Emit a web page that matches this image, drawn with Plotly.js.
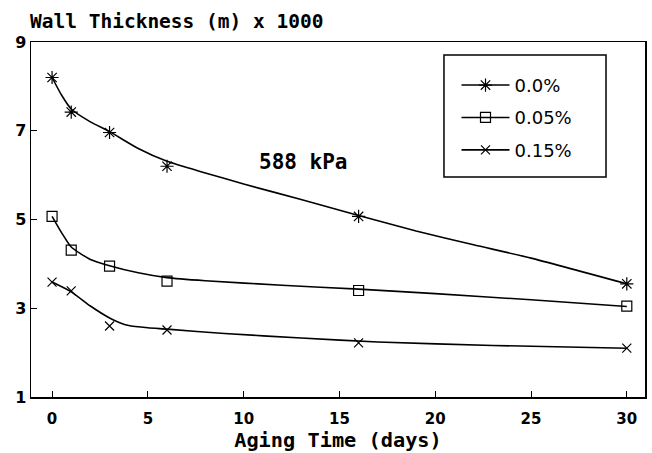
<!DOCTYPE html>
<html>
<head>
<meta charset="utf-8">
<script src="https://cdn.plot.ly/plotly-3.0.1.min.js"></script>
<style>html,body{margin:0;padding:0;background:#fff}#chart{width:652px;height:453px}</style>
</head>
<body>
<div id="chart"></div>
<script>
// Measured data points (Aging Time in days, Wall Thickness (m) x 1000)
const seriesNames = ['0.0%', '0.05%', '0.15%'];
const pointDays = [0, 1, 3, 6, 16, 30];
const points00 = [8.2, 7.42, 6.96, 6.2, 5.07, 3.55];
const points005 = [5.07, 4.31, 3.95, 3.61, 3.40, 3.05];
const points015 = [3.59, 3.39, 2.60, 2.51, 2.22, 2.10];

// Fitted curves
const curveDays00 = [0, 0.5, 1, 2, 3, 4.5, 6, 8, 10, 13, 16, 19, 22, 25, 30];
const curve00 = [8.2, 7.8, 7.49, 7.2, 6.98, 6.6, 6.31, 6.05, 5.8, 5.45, 5.09, 4.74, 4.43, 4.13, 3.55];
const curveDays005 = [0, 0.5, 1, 2, 3, 4.5, 6, 8, 12, 16, 20, 25, 30];
const curve005 = [5.07, 4.7, 4.38, 4.1, 3.96, 3.8, 3.69, 3.62, 3.52, 3.43, 3.33, 3.19, 3.04];
const curveDays015 = [0, 1, 2, 3, 3.5, 4, 5, 6, 9, 13, 17, 23, 30];
const curve015 = [3.59, 3.37, 3.05, 2.78, 2.68, 2.61, 2.56, 2.53, 2.43, 2.33, 2.24, 2.16, 2.10];

const xTicks = [0, 5, 10, 15, 20, 25, 30];
const yTicks = [1, 3, 5, 7, 9];

const symbols = ['asterisk-open', 'square-open', 'x-thin-open'];
const sizes = [11, 10, 9];
const curvesX = [curveDays00, curveDays005, curveDays015];
const curvesY = [curve00, curve005, curve015];
const pointsY = [points00, points005, points015];

const traces = [];
for (let i = 0; i < 3; i++) {
  traces.push({x: curvesX[i], y: curvesY[i], mode: 'lines', line: {color: '#000', width: 1.6, shape: 'spline', smoothing: 0.6}, showlegend: false, hoverinfo: 'skip'});
  traces.push({x: pointDays, y: pointsY[i], mode: 'markers', marker: {symbol: symbols[i], size: sizes[i], color: '#000', line: {color: '#000', width: 1.2}}, showlegend: false});
  traces.push({x: [null], y: [null], mode: 'lines+markers', name: seriesNames[i], legendgroup: 'g' + i,
    line: {color: '#000', width: 1.6}, marker: {symbol: symbols[i], size: sizes[i], color: '#000', line: {color: '#000', width: 1.2}}});
}

const layout = {
  width: 652, height: 453,
  margin: {l: 31, r: 7, t: 42, b: 56},
  paper_bgcolor: '#fff', plot_bgcolor: '#fff',
  font: {family: 'DejaVu Sans, sans-serif', color: '#000'},
  title: {text: '<b>Wall Thickness (m) x 1000</b>', font: {family: 'DejaVu Sans Mono, monospace', size: 19.5, color: '#000'},
    xref: 'container', yref: 'container', x: 0.046, xanchor: 'left', y: 0.953, yanchor: 'middle'},
  xaxis: {range: [-1.1, 30.95], tickvals: xTicks, ticktext: xTicks.map(v => '<b>' + v + '</b>'), ticks: 'inside', ticklen: 6, tickcolor: '#000',
    showline: true, linecolor: '#000', linewidth: 1.5, mirror: true, showgrid: false, zeroline: false, ticklabelstandoff: 7,
    tickfont: {size: 15, family: 'DejaVu Sans, sans-serif'},
    title: {text: '<b>Aging Time (days)</b>', font: {family: 'DejaVu Sans Mono, monospace', size: 20.3}, standoff: 6}},
  yaxis: {range: [1, 9], tickvals: yTicks, ticktext: yTicks.map(v => '<b>' + v + '</b>'), ticks: 'inside', ticklen: 6, tickcolor: '#000',
    showline: true, linecolor: '#000', linewidth: 1.5, mirror: true, showgrid: false, zeroline: false,
    tickfont: {size: 16, family: 'DejaVu Sans, sans-serif'}},
  legend: {x: 0.693, y: 0.93, xanchor: 'left', yanchor: 'top', borderwidth: 0, bgcolor: 'rgba(0,0,0,0)',
    font: {size: 18, family: 'DejaVu Sans, sans-serif'}, itemwidth: 48, tracegroupgap: 6, traceorder: 'grouped'},
  shapes: [{type: 'rect', xref: 'paper', yref: 'paper', x0: 0.6726, x1: 0.9365, y0: 0.6197, y1: 0.9634,
    line: {color: '#000', width: 1.5}, fillcolor: 'rgba(0,0,0,0)'}],
  annotations: [{x: 13.1, y: 6.3, xref: 'x', yref: 'y', text: '<b>588 kPa</b>', showarrow: false,
    font: {family: 'DejaVu Sans Mono, monospace', size: 21, color: '#000'}}]
};

Plotly.newPlot('chart', traces, layout, {displayModeBar: false, staticPlot: true});
</script>
</body>
</html>
